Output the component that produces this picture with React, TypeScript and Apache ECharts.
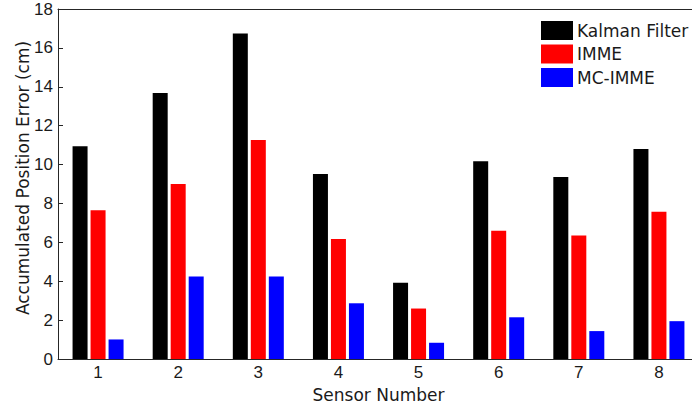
import React, { useEffect, useRef } from "react";
import * as echarts from "echarts";

const categories = ["1", "2", "3", "4", "5", "6", "7", "8"];
const kalman = [10.94, 13.68, 16.74, 9.52, 3.92, 10.17, 9.36, 10.8];
const imme = [7.65, 9.0, 11.26, 6.17, 2.6, 6.6, 6.36, 7.57];
const mcImme = [1.01, 4.25, 4.25, 2.87, 0.84, 2.15, 1.44, 1.95];
const seriesNames = ["Kalman Filter", "IMME", "MC-IMME"];
const seriesColors = ["#000000", "#ff0000", "#0000ff"];
const yTitle = "Accumulated Position Error (cm)";
const xTitle = "Sensor Number";

export default function App() {
  const ref = useRef<HTMLDivElement>(null);
  useEffect(() => {
    if (!ref.current) return;
    const chart = echarts.init(ref.current, undefined, { renderer: "svg" });
    const axisColor = "#262626";
    const words = "DejaVu Sans";
    const digits = "Liberation Sans";
    const data = [kalman, imme, mcImme];
    chart.setOption({
      animation: false,
      backgroundColor: "#ffffff",
      grid: { left: 58, top: 9, right: 1, bottom: 46.5, containLabel: false },
      legend: {
        orient: "vertical",
        left: 541,
        top: 21,
        padding: 0,
        itemWidth: 32,
        itemHeight: 19,
        itemGap: 4.5,
        icon: "rect",
        data: seriesNames,
        textStyle: { fontFamily: words, fontSize: 17, color: "#1a1a1a", padding: [0, 0, 0, -1] },
      },
      xAxis: [
        {
          type: "category",
          data: categories,
          position: "bottom",
          axisLine: { lineStyle: { color: axisColor, width: 1 } },
          axisTick: { inside: true, length: 5, alignWithLabel: true, lineStyle: { color: axisColor } },
          axisLabel: { fontFamily: digits, fontSize: 17, color: "#1a1a1a", margin: 5 },
          name: xTitle,
          nameLocation: "middle",
          nameGap: 20,
          nameTextStyle: { fontFamily: words, fontSize: 17, color: "#1a1a1a" },
        },
        {
          type: "category",
          data: categories,
          position: "top",
          axisLine: { lineStyle: { color: axisColor, width: 1 } },
          axisTick: { inside: true, length: 5, alignWithLabel: true, lineStyle: { color: axisColor } },
          axisLabel: { show: false },
        },
      ],
      yAxis: {
        type: "value",
        min: 0,
        max: 18,
        interval: 2,
        axisLine: { show: true, lineStyle: { color: axisColor, width: 1 } },
        axisTick: { show: true, inside: true, length: 5, lineStyle: { color: axisColor } },
        axisLabel: { fontFamily: digits, fontSize: 17, color: "#1a1a1a", margin: 5 },
        splitLine: { show: false },
      },
      graphic: [
        {
          type: "text",
          x: 23,
          y: 178,
          rotation: Math.PI / 2,
          style: {
            text: yTitle,
            fontFamily: words,
            fontSize: 17,
            fill: "#1a1a1a",
            align: "center",
            verticalAlign: "middle",
          },
        },
      ],
      series: seriesNames.map((name, i) => ({
        name,
        type: "bar",
        xAxisIndex: 0,
        data: data[i],
        barWidth: 15,
        barGap: "20%",
        itemStyle: { color: seriesColors[i] },
      })),
    });
    return () => chart.dispose();
  }, []);
  return (
    <div style={{ width: 692, height: 408, position: "absolute", left: 0, top: 0, overflow: "hidden", background: "#fff" }}>
      <div ref={ref} style={{ width: 700, height: 408 }} />
    </div>
  );
}
